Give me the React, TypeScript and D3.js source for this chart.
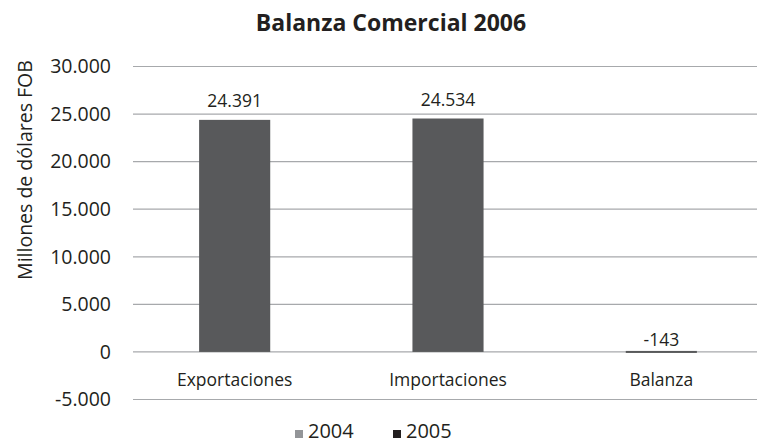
import React from "react";
import * as d3 from "d3";

const categories = ["Exportaciones", "Importaciones", "Balanza"];
const values2005 = [24391, 24534, -143];
const yTicks = [-5000, 0, 5000, 10000, 15000, 20000, 25000, 30000];
const legendItems = ["2004", "2005"];
const legendColors = ["#939598", "#231f20"];

const W = 757;
const H = 443;
const FONT = "'Open Sans', sans-serif";
const TEXT = "#231f20";
const BAR = "#58595b";

const fmt = (v: number) => {
  const s = Math.abs(v)
    .toString()
    .replace(/\B(?=(\d{3})+(?!\d))/g, ".");
  return (v < 0 ? "-" : "") + s;
};

export default function App() {
  const x = d3
    .scaleBand<string>()
    .domain(categories)
    .range([128, 768])
    .paddingInner(2 / 3)
    .paddingOuter(1 / 3);
  const y = d3.scaleLinear().domain([-5000, 30000]).range([399.5, 66.5]);

  return (
    <svg
      width={W}
      height={H}
      style={{ position: "absolute", left: 0, top: 0, background: "#fff" }}
      fontFamily={FONT}
    >
      <text x={391} y={31} textAnchor="middle" fontSize={23} fontWeight="bold" fill={TEXT}>
        Balanza Comercial 2006
      </text>

      {/* grid */}
      {yTicks.map((t) => (
        <g key={t}>
          <line x1={133} x2={W} y1={y(t)} y2={y(t)} stroke="#a7a9ac" strokeWidth={1.2} />
          <text x={111} y={y(t)} dy="0.35em" textAnchor="end" fontSize={19.5} fill={TEXT}>
            {fmt(t)}
          </text>
        </g>
      ))}

      <text
        transform={`translate(32,170) rotate(-90)`}
        textAnchor="middle"
        fontSize={19.5}
        fill={TEXT}
      >
        Millones de dólares FOB
      </text>

      {/* bars */}
      {categories.map((c, i) => {
        const v = values2005[i];
        const top = y(Math.max(0, v));
        const h = Math.max(2, Math.abs(y(v) - y(0)));
        return (
          <g key={c}>
            <rect x={x(c)} y={v < 0 ? y(0) - 1 : top} width={x.bandwidth()} height={h} fill={BAR} />
            <text
              x={(x(c) ?? 0) + x.bandwidth() / 2}
              y={top - (v < 0 ? 6 : 13)}
              textAnchor="middle"
              fontSize={17.5}
              fill={TEXT}
            >
              {fmt(v)}
            </text>
            <text
              x={(x(c) ?? 0) + x.bandwidth() / 2}
              y={386}
              textAnchor="middle"
              fontSize={17.5}
              fill={TEXT}
            >
              {c}
            </text>
          </g>
        );
      })}

      {/* legend */}
      {legendItems.map((l, i) => (
        <g key={l} transform={`translate(${295 + i * 98},0)`}>
          <rect x={0} y={430} width={8} height={8} fill={legendColors[i]} />
          <text x={13} y={438} fontSize={20} fill={TEXT}>
            {l}
          </text>
        </g>
      ))}
    </svg>
  );
}
